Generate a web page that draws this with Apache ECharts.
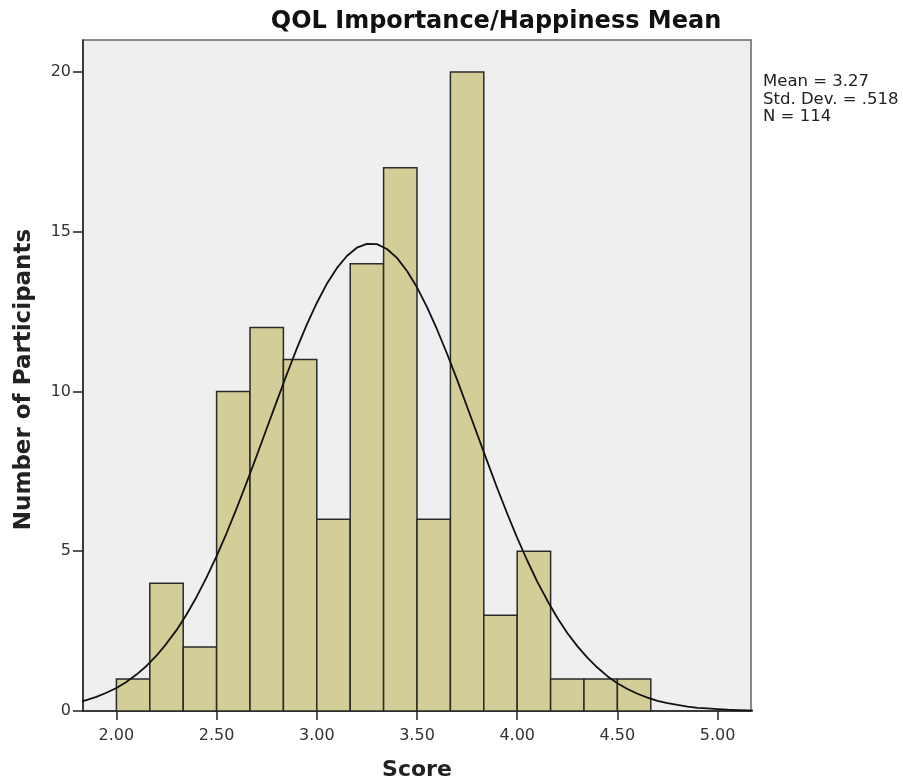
<!DOCTYPE html>
<html>
<head>
<meta charset="utf-8">
<title>QOL Importance/Happiness Mean</title>
<script src="https://cdn.jsdelivr.net/npm/echarts@6/dist/echarts.min.js"></script>
<style>
    html, body { margin: 0; padding: 0; background: #fff; }
    #chart { width: 903px; height: 782px; }
</style>
</head>
<body>
<div id="chart"></div>
<script>
// histogram bins (lower edge, upper edge) and counts
var binStart = [2.0000, 2.1667, 2.3333, 2.5000, 2.6667, 2.8333, 3.0000, 3.1667,
                3.3333, 3.5000, 3.6667, 3.8333, 4.0000, 4.1667, 4.3333, 4.5000];
var binWidth = 0.16667;
var counts = [1, 4, 2, 10, 12, 11, 6, 14, 17, 6, 20, 3, 5, 1, 1, 1];

// fitted normal curve
var curveX = [1.80, 1.85, 1.90, 1.95, 2.00, 2.05, 2.10, 2.15, 2.20, 2.25, 2.30, 2.35, 2.40, 2.45,
              2.50, 2.55, 2.60, 2.65, 2.70, 2.75, 2.80, 2.85, 2.90, 2.95, 3.00, 3.05, 3.10, 3.15,
              3.20, 3.25, 3.30, 3.35, 3.40, 3.45, 3.50, 3.55, 3.60, 3.65, 3.70, 3.75, 3.80, 3.85,
              3.90, 3.95, 4.00, 4.05, 4.10, 4.15, 4.20, 4.25, 4.30, 4.35, 4.40, 4.45, 4.50, 4.55,
              4.60, 4.65, 4.70, 4.75, 4.80, 4.85, 4.90, 4.95, 5.00, 5.05, 5.10, 5.15, 5.20];
var curveY = [0.26, 0.34, 0.44, 0.57, 0.72, 0.91, 1.14, 1.41, 1.73, 2.11, 2.53, 3.02, 3.57, 4.18,
              4.85, 5.57, 6.34, 7.15, 7.99, 8.84, 9.69, 10.53, 11.34, 12.09, 12.77, 13.37, 13.86, 14.24,
              14.50, 14.62, 14.61, 14.46, 14.18, 13.77, 13.26, 12.64, 11.94, 11.18, 10.37, 9.52, 8.67, 7.82,
              6.98, 6.18, 5.42, 4.71, 4.05, 3.46, 2.92, 2.44, 2.03, 1.67, 1.36, 1.09, 0.87, 0.69,
              0.54, 0.42, 0.32, 0.25, 0.19, 0.14, 0.10, 0.08, 0.06, 0.04, 0.03, 0.02, 0.01];

var xTicks = [2.0, 2.5, 3.0, 3.5, 4.0, 4.5, 5.0];
var yTicks = [0, 5, 10, 15, 20];
var statsLines = ['Mean = 3.27', 'Std. Dev. = .518', 'N = 114'];

var FONT = 'DejaVu Sans';

var histData = binStart.map(function (x0, i) {
    return [x0, x0 + binWidth, counts[i]];
});
var curveData = curveX.map(function (x, i) { return [x, curveY[i]]; });

var myChart = echarts.init(document.getElementById('chart'), null, { renderer: 'canvas' });

myChart.setOption({
    animation: false,
    backgroundColor: '#fff',
    title: {
        text: 'QOL Importance/Happiness Mean',
        left: 491,
        textAlign: 'center',
        top: 5,
        textStyle: { fontFamily: FONT, fontSize: 24, fontWeight: 'bold', color: '#111' }
    },
    grid: {
        left: 83, top: 40, right: 152, bottom: 71,
        outerBoundsMode: 'none',
        containLabel: false,
        show: true,
        backgroundColor: '#efefef',
        borderColor: '#666',
        borderWidth: 1.5
    },
    xAxis: {
        type: 'value',
        min: 1.8333,
        max: 5.1667,
        name: 'Score',
        nameLocation: 'middle',
        nameGap: 48,
        nameTextStyle: { fontFamily: FONT, fontSize: 22, fontWeight: 'bold', color: '#222' },
        axisLine: { show: true, lineStyle: { color: '#222', width: 1.5 } },
        axisTick: { show: true, length: 9, customValues: xTicks, lineStyle: { color: '#222', width: 1.5 } },
        axisLabel: {
            customValues: xTicks,
            margin: 17,
            fontFamily: FONT, fontSize: 16, color: '#333',
            formatter: function (v) { return v.toFixed(2); }
        },
        splitLine: { show: false }
    },
    yAxis: {
        type: 'value',
        min: 0,
        max: 21,
        name: 'Number of Participants',
        nameLocation: 'middle',
        nameGap: 47,
        nameTextStyle: { fontFamily: FONT, fontSize: 23, fontWeight: 'bold', color: '#222', padding: [0, 8, 0, 0] },
        axisLine: { show: true, lineStyle: { color: '#222', width: 1.5 } },
        axisTick: { show: true, length: 10, customValues: yTicks, lineStyle: { color: '#222', width: 1.5 } },
        axisLabel: {
            customValues: yTicks,
            margin: 12,
            fontFamily: FONT, fontSize: 16, color: '#333'
        },
        splitLine: { show: false }
    },
    series: [{
        name: 'Participants',
        type: 'custom',
        data: histData,
        encode: { x: [0, 1], y: 2 },
        renderItem: function (params, api) {
            var p0 = api.coord([api.value(0), 0]);
            var p1 = api.coord([api.value(1), api.value(2)]);
            return {
                type: 'rect',
                shape: { x: p0[0], y: p1[1], width: p1[0] - p0[0], height: p0[1] - p1[1] },
                style: { fill: '#d3ce97', stroke: '#2a2a2a', lineWidth: 1.5 }
            };
        },
        z: 2
    }, {
        name: 'Normal',
        type: 'line',
        data: curveData,
        smooth: false,
        showSymbol: false,
        clip: true,
        lineStyle: { color: '#111', width: 1.8, join: 'round' },
        z: 3
    }],
    graphic: [{
        type: 'text',
        left: 763,
        top: 73,
        style: {
            text: statsLines.join('\n'),
            font: '16.5px "' + FONT + '"',
            lineHeight: 17.5,
            fill: '#222'
        }
    }]
});
</script>
</body>
</html>
